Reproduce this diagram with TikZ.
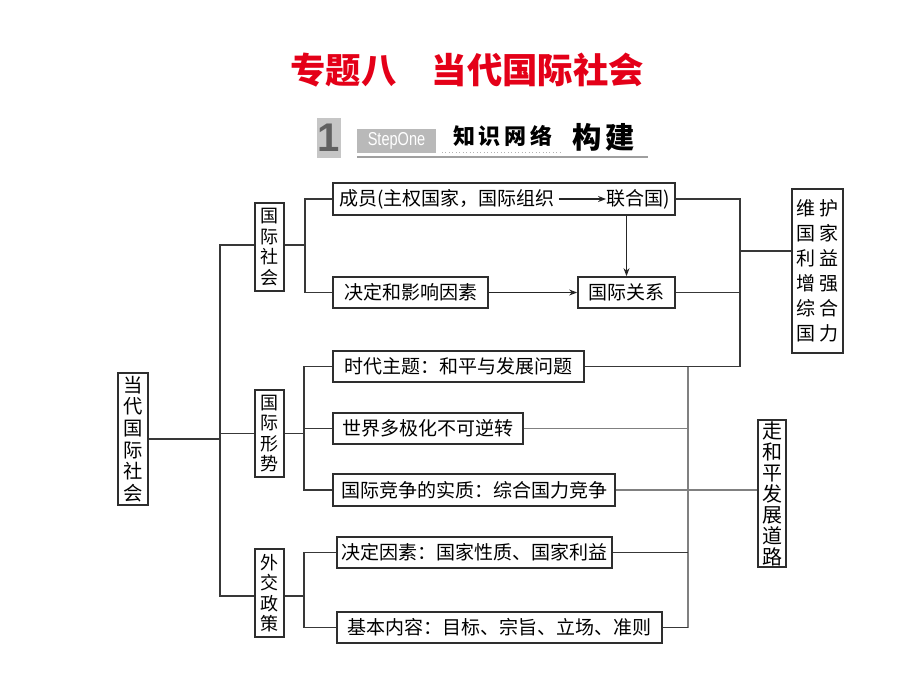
\documentclass[tikz,border=0pt]{standalone}
\usepackage{fontspec}
\usepackage{graphicx}
\setmainfont{Noto Sans CJK SC}
\newfontfamily\latinsans{Liberation Sans}
\usetikzlibrary{arrows.meta}
\definecolor{titlered}{RGB}{228,0,24}
\begin{document}
\begin{tikzpicture}[x=0.75pt,y=-0.75pt,
  bx/.style={draw=black!82, line width=1.3pt, inner sep=0pt, fill=white,
             font=\fontsize{14.25pt}{15.5pt}\selectfont},
  vbx/.style={bx, align=center},
  ln/.style={draw=black!78, line width=1.1pt},
  lnl/.style={draw=black!50, line width=0.8pt},
  arr/.style={draw=black!85, line width=0.8pt, -{Stealth[length=6pt,width=4.5pt]}}]
\path[use as bounding box, fill=white] (0,0) rectangle (920,690);

% title
\node[text=titlered, font=\fontsize{26.5pt}{28pt}\selectfont\bfseries] (title) at (467,70) {专题八\quad 当代国际社会};

% banner
\fill[gray!45] (317,118) rectangle (341,158);
\node[font=\latinsans\fontsize{30pt}{30pt}\selectfont\bfseries, text=black!62, inner sep=0] (one) at (329,138) {1};
\node[fill=gray!55, text=white, inner sep=0pt, minimum width=59.25pt, minimum height=18pt,
      font=\latinsans\fontsize{14pt}{14pt}\selectfont] (stepone) at (396.5,141) {\scalebox{0.78}[1]{StepOne}};
\node[font=\fontsize{16.5pt}{17pt}\selectfont\bfseries, inner sep=0] (zs) at (503,136) {知\hspace{3pt}识\hspace{3pt}网\hspace{3pt}络};
\node[font=\fontsize{22pt}{23pt}\selectfont\bfseries, inner sep=0] (gj) at (604,137) {构\hspace{3pt}建};
\draw[gray!75, line width=1.6pt] (357,157) -- (648,157);
\draw[gray!60, line width=0.6pt, dotted] (442,152.5) -- (562,152.5);

% boxes
\node[vbx, minimum width=22.5pt, minimum height=99pt, font=\fontsize{14.5pt}{16.3pt}\selectfont] (root) at (133,439) {当\\代\\国\\际\\社\\会};
\node[vbx, minimum width=21.75pt, minimum height=66pt, font=\fontsize{13.5pt}{15.3pt}\selectfont] (g1) at (269.5,247) {国\\际\\社\\会};
\node[vbx, minimum width=21.75pt, minimum height=65.25pt, font=\fontsize{13.5pt}{15.3pt}\selectfont] (g2) at (269.5,433.5) {国\\际\\形\\势};
\node[vbx, minimum width=21.75pt, minimum height=66pt, font=\fontsize{13.5pt}{15.3pt}\selectfont] (g3) at (269.5,593) {外\\交\\政\\策};

\node[bx, minimum width=256.5pt, minimum height=24pt] (m) at (504,199) {};
\node[font=\fontsize{14.25pt}{15.5pt}\selectfont, inner sep=0, anchor=west] (m1) at (339,199) {成员(主权国家，国际组织};
\node[font=\fontsize{14.25pt}{15.5pt}\selectfont, inner sep=0, anchor=east] (m2) at (670,199) {联合国)};
\node[bx, minimum width=116.25pt, minimum height=23.25pt] (k) at (410.5,292.5) {决定和影响因素};
\node[bx, minimum width=72.75pt, minimum height=23.25pt] (r) at (626.5,292.5) {国际关系};
\node[vbx, minimum width=38.25pt, minimum height=123pt, font=\fontsize{14.25pt}{18.75pt}\selectfont] (wh) at (817.5,271)
  {维\hspace{2.5pt}护\\国\hspace{2.5pt}家\\利\hspace{2.5pt}益\\增\hspace{2.5pt}强\\综\hspace{2.5pt}合\\国\hspace{2.5pt}力};

\node[bx, minimum width=188.25pt, minimum height=23.25pt] (s1) at (458.5,366.5) {时代主题：和平与发展问题};
\node[bx, minimum width=142.5pt, minimum height=23.25pt] (s2) at (428,428.5) {世界多极化不可逆转};
\node[bx, minimum width=211.5pt, minimum height=24pt] (s3) at (474,490) {国际竞争的实质：综合国力竞争};
\node[vbx, minimum width=21pt, minimum height=110.25pt, font=\fontsize{15pt}{15.75pt}\selectfont] (zh) at (772,493.5) {走\\和\\平\\发\\展\\道\\路};

\node[bx, minimum width=206.25pt, minimum height=23.25pt] (d1) at (474.5,552.5) {决定因素：国家性质、国家利益};
\node[bx, minimum width=243.75pt, minimum height=23.25pt] (d2) at (499.5,627.5) {基本内容：目标、宗旨、立场、准则};

% junction coordinates
\coordinate (xt) at (220,0);
\coordinate (xa) at (305,0);
\coordinate (xb) at (304,0);
\coordinate (xr) at (740,0);
\coordinate (xm) at (688,0);
\coordinate (jw) at (740,251);
\coordinate (jt) at (220,245);
\coordinate (jb) at (220,596);

% trunk
\draw[ln] (root.east) -- (root.east -| xt);
\draw[ln] (g1.west |- jt) -- (jt) -- (jb) -- (jb -| g3.west);
\draw[ln] (g2.west) -- (g2.west -| xt);

% 国际社会 branch
\draw[ln] (g1.east |- jt) -- (jt -| xa);
\draw[ln] (m.west) -| (k.west -| xa) -- (k.west);
\draw[arr] (k.east) -- (r.west);
\draw[arr] (m1.east) ++(4,0) -- (m2.west);
\draw[arr] (r.north |- m.south) -- (r.north);

% right collectors
\draw[ln] (m.east) -- (m.east -| xr) -- (s1.east -| xr) -- (s1.east);
\draw[ln] (r.east) -- (r.east -| xr);
\draw[ln] (jw) -- (jw -| wh.west);

% 国际形势 branch
\draw[ln] (g2.east) -- (g2.east -| xb);
\draw[ln] (s1.west) -| (s3.west -| xb) -- (s3.west);
\draw[ln] (s2.west) -- (s2.west -| xb);
\draw[lnl] (s2.east) -- (s2.east -| xm);
\draw[lnl] (s3.east) -- (s3.east -| zh.west);
\draw[lnl] (s1.east -| xm) -- (d2.east -| xm);

% 外交政策 branch
\draw[ln] (g3.east |- jb) -- (jb -| xb);
\draw[ln] (d1.west) -| (d2.west -| xb) -- (d2.west);
\draw[ln] (d1.east) -- (d1.east -| xm);
\draw[ln] (d2.east) -- (d2.east -| xm);
\end{tikzpicture}
\end{document}
